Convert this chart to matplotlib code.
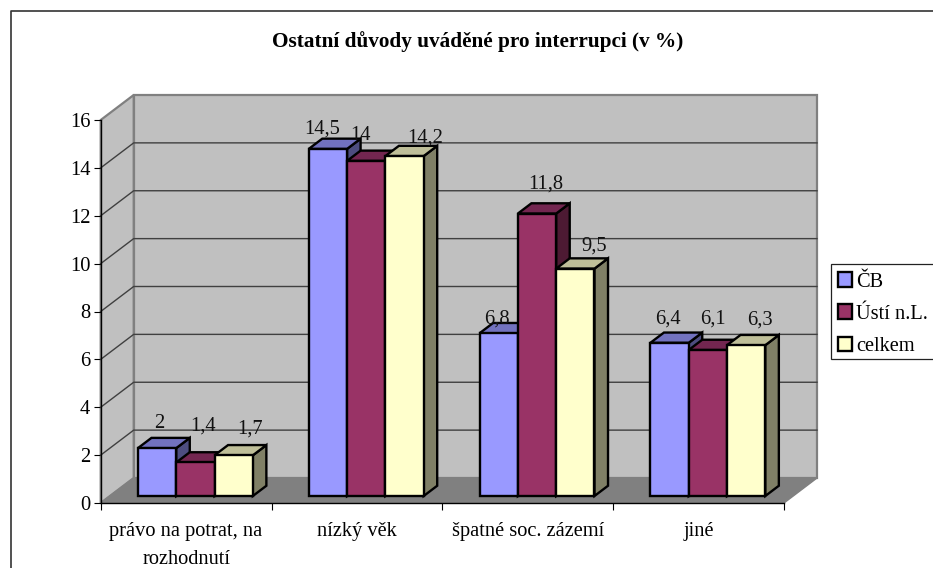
import numpy as np
import matplotlib
matplotlib.use('Agg')
import matplotlib.pyplot as plt
from matplotlib.lines import Line2D
from matplotlib.patches import Patch, Polygon, Rectangle

plt.rcParams['font.family'] = ['Liberation Serif', 'DejaVu Serif']

categories = ['právo na potrat, na\nrozhodnutí', 'nízký věk', 'špatné soc. zázemí', 'jiné']
cb = [2, 14.5, 6.8, 6.4]
usti = [1.4, 14, 11.8, 6.1]
celkem = [1.7, 14.2, 9.5, 6.3]
series_names = ['ČB', 'Ústí n.L.', 'celkem']
title = 'Ostatní důvody uváděné pro interrupci (v %)'

W, H = 933, 568
fig = plt.figure(figsize=(W / 100, H / 100), dpi=100)

# plot area = front plane of the excel 3d box, pixels from the picture
left, right, top, bottom = 100.7, 784, 120, 503
ax = fig.add_axes([left / W, 1 - bottom / H, (right - left) / W, (bottom - top) / H])
ax.set_xlim(0, 4)
ax.set_ylim(0, 16)
ax.patch.set_visible(False)

px_x = 4 / (right - left)
px_y = 16 / (bottom - top)
depth_x = 33 * px_x
depth_y = 25 * px_y


def poly(pts, fc, ec='none', lw=0, z=1):
    ax.add_patch(Polygon(pts, closed=True, fc=fc, ec=ec, lw=lw, zorder=z, clip_on=False, joinstyle='miter'))


# walls and floor
poly([(depth_x, depth_y), (4 + depth_x, depth_y), (4 + depth_x, 16 + depth_y), (depth_x, 16 + depth_y)],
     '#C0C0C0', '#808080', 1.6)
poly([(0, 0), (depth_x, depth_y), (depth_x, 16 + depth_y), (0, 16)], '#C0C0C0', '#808080', 1.6)
poly([(0, 0), (4, 0), (4 + depth_x, depth_y), (depth_x, depth_y)], '#808080', '#808080', 1)

for v in range(2, 16, 2):
    ax.plot([0, depth_x, 4 + depth_x], [v, v + depth_y, v + depth_y], color='#404040', lw=1,
            zorder=2, clip_on=False)

# bars
colors = [('#9999FF', '#7272BF', '#4D4D80'),
          ('#993366', '#732650', '#4D1A33'),
          ('#FFFFCC', '#BFBF99', '#808066')]
series = [cb, usti, celkem]
bar_w = 38.3 * px_x
gap = 28 * px_x
front = 0.28
back = 0.69
fx, fy = front * depth_x, front * depth_y
bx, by = (back - front) * depth_x, (back - front) * depth_y
edge = dict(ec='black', lw=1.7, z=3)

for c in range(len(categories)):
    for k, vals in enumerate(series):
        x0 = c + gap + k * bar_w + fx
        v = vals[c] + fy
        face, shade_top, shade_side = colors[k]
        poly([(x0 + bar_w, fy), (x0 + bar_w + bx, fy + by), (x0 + bar_w + bx, v + by), (x0 + bar_w, v)],
             shade_side, **edge)
        poly([(x0, v), (x0 + bar_w, v), (x0 + bar_w + bx, v + by), (x0 + bx, v + by)], shade_top, **edge)
        ax.bar(x0, vals[c], bar_w, bottom=fy, align='edge', color=face, edgecolor='black', linewidth=1.7,
               zorder=3, clip_on=False)

# labels sit oddly in the original, so nudge each one (pixels from bar centre / top)
nudges = [[(2, 25), (-6, 20), (-2, 14), (-2, 24)],
          [(7.5, 36), (-6, 25), (9, 29), (5, 31)],
          [(16, 26), (21, 18), (19, 23), (14, 25)]]
for k, vals in enumerate(series):
    for c, v in enumerate(vals):
        x0 = c + gap + (k + 0.5) * bar_w + fx
        ax.annotate(str(v).replace('.', ','), (x0, v + fy), xytext=nudges[k][c], textcoords='offset pixels',
                    ha='center', va='center', fontsize=14.8, color='#111111', zorder=6, annotation_clip=False)

# axes
for s in ['top', 'right']:
    ax.spines[s].set_visible(False)
for s in ['left', 'bottom']:
    ax.spines[s].set_linewidth(1)
    ax.spines[s].set_color('black')
    ax.spines[s].set_zorder(4)
ax.set_yticks(np.arange(0, 17, 2))
ax.tick_params(axis='y', labelsize=14.8, length=5, width=0.8, pad=2.5, direction='out')
ax.set_xticks(range(5))
ax.set_xticklabels([])
ax.tick_params(axis='x', which='major', length=5, width=0.8)
ax.set_xticks(np.arange(0.5, 4), minor=True)
ax.set_xticklabels(categories, minor=True, fontsize=14.7, linespacing=1.6)
ax.tick_params(axis='x', which='minor', length=0, pad=14)

fig.text(478 / W, 1 - 42 / H, title, ha='center', va='center', fontsize=15.3, fontweight='bold')

# legend, box drawn apart because its padding is uneven in the original
fig.add_artist(Rectangle((830.5 / W, 1 - 359 / H), 110 / W, 95 / H, transform=fig.transFigure,
                         fc='white', ec='#222222', lw=0.9, zorder=5))
handles = [Patch(fc=colors[i][0], ec='black', lw=1.7) for i in range(3)]
leg = fig.legend(handles, series_names, loc='upper left', bbox_to_anchor=(831.5 / W, 1 - 266 / H),
                 fontsize=14.7, frameon=False, borderpad=0.3, handlelength=0.72, handleheight=0.72,
                 handletextpad=0.2, labelspacing=0.63, borderaxespad=0)
leg.set_zorder(6)

# chart frame, runs off the right and bottom of the picture
fig.add_artist(Line2D([10.5 / W, 10.5 / W, 1], [0, 1 - 11 / H, 1 - 11 / H], color='#333333', lw=1.2))

fig.savefig('out.png', dpi=100)
